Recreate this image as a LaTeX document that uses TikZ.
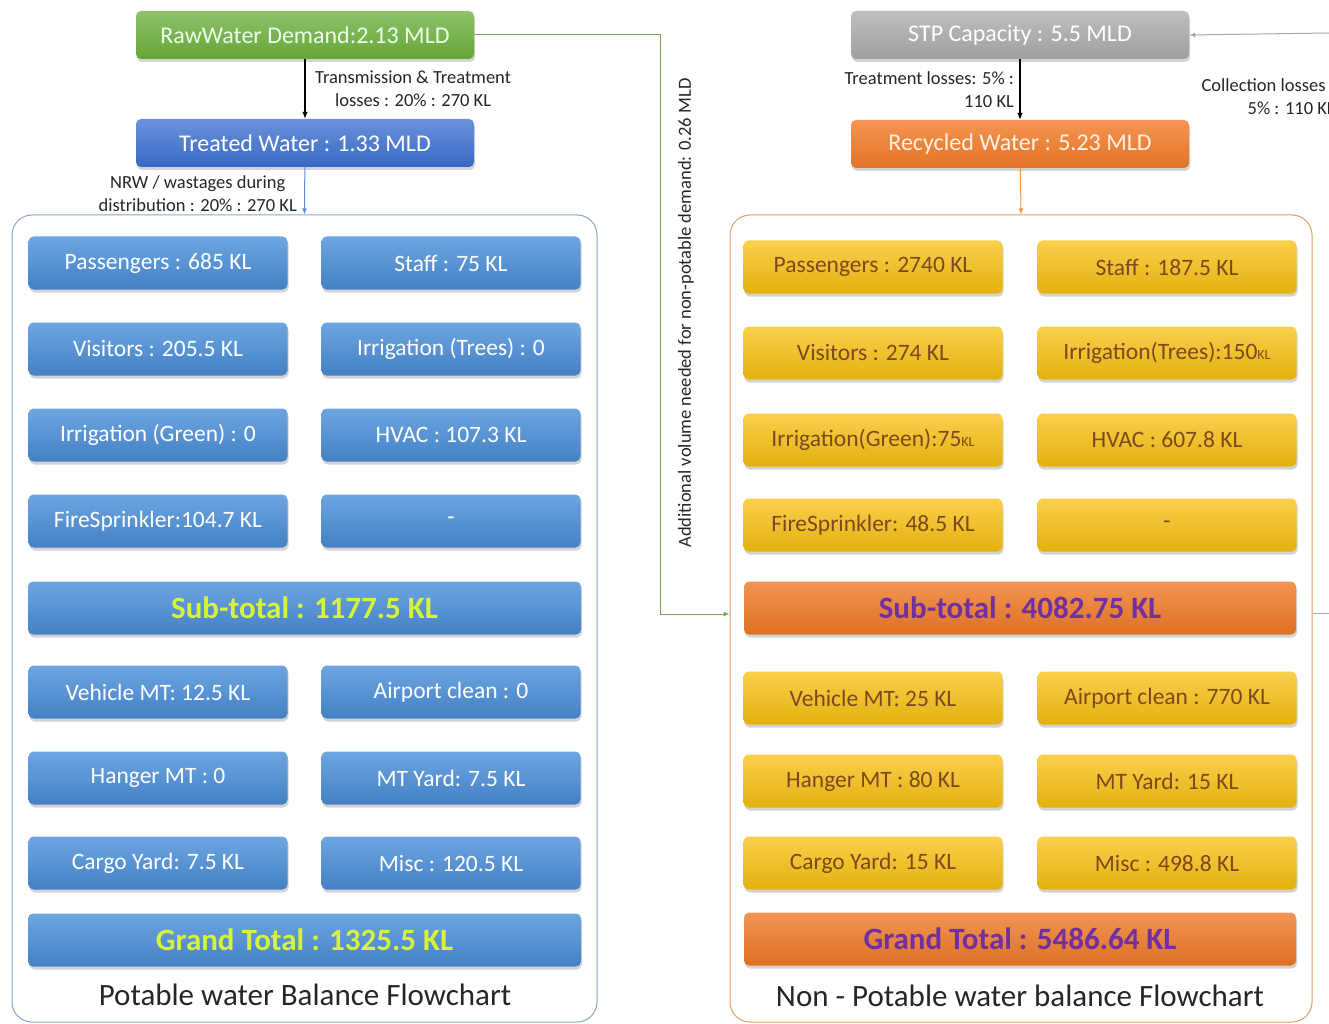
\documentclass[tikz,border=0pt]{standalone}
\usepackage{fontspec}
\setmainfont{Carlito}
\usepackage{xcolor}
\usetikzlibrary{shapes,arrows.meta,positioning,calc,shadows}

\definecolor{rawgreen}{HTML}{6AAE3A}
\definecolor{treatblue}{HTML}{3A6ED0}
\definecolor{potblue}{HTML}{4A8FDA}
\definecolor{subyellow}{HTML}{D8F23C}
\definecolor{npyellow}{HTML}{F8C010}
\definecolor{nptext}{HTML}{7A4A1E}
\definecolor{recorange}{HTML}{F07A28}
\definecolor{subpurple}{HTML}{7030A0}
\definecolor{stpgrey}{HTML}{A8A8A8}
\definecolor{linkgreen}{HTML}{72A84E}
\definecolor{potframe}{HTML}{8AA6C4}
\definecolor{npframe}{HTML}{D9A263}

\begin{document}
\begin{tikzpicture}[x=1pt, y=-1pt,
    head/.style={rectangle, rounded corners=5pt, minimum width=338pt, minimum height=48pt,
      drop shadow={opacity=0.35, shadow xshift=1pt, shadow yshift=-3pt}, font=\fontsize{24}{28}\selectfont},
    potbox/.style={rectangle, rounded corners=5pt, minimum width=259pt, minimum height=53pt,
      top color=potblue!80!white, bottom color=potblue!90!black, text=white,
      drop shadow={opacity=0.35, shadow xshift=1pt, shadow yshift=-3pt}, font=\fontsize{23.5}{27}\selectfont},
    npbox/.style={rectangle, rounded corners=5pt, minimum width=259pt, minimum height=53pt,
      top color=npyellow!75!white, bottom color=npyellow!92!black, text=nptext,
      drop shadow={opacity=0.35, shadow xshift=1pt, shadow yshift=-3pt}, font=\fontsize{23.5}{27}\selectfont},
    potsum/.style={potbox, minimum width=553pt, text=subyellow, font=\fontsize{31}{35}\selectfont\bfseries},
    npsum/.style={npbox, minimum width=552pt, top color=recorange!80!white, bottom color=recorange!92!black,
      text=subpurple, font=\fontsize{31}{35}\selectfont\bfseries},
    panel/.style={rectangle, draw, rounded corners=20pt, line width=1pt},
    caption/.style={font=\fontsize{31}{35}\selectfont, text=black!85},
    note/.style={font=\fontsize{18.5}{23}\selectfont, text=black!85, align=center},
    arrow/.style={-{Latex[length=7pt,width=6pt]}, line width=1.6pt},
    thinarrow/.style={-{Latex[length=6pt,width=5pt]}, line width=1pt}
  ]
    \useasboundingbox (0,0) rectangle (1329,1024);

    % potable side
    \node[head, top color=rawgreen!75!white, bottom color=rawgreen!95!black, text=green!8!white] (raw) at (305,35) {RawWater Demand:2.13 MLD};
    \node[head, top color=treatblue!75!white, bottom color=treatblue!95!black, text=white] (treated) at (305,143) {Treated Water : 1.33 MLD};
    \node[panel, draw=potframe, minimum width=585pt, minimum height=807pt] (potpanel) at (304.5,618.5) {};

    \node[potbox] (potpass) at (158,263) {Passengers : 685 KL};
    \node[potbox] (potstaff) at (451,263) {Staff : 75 KL};
    \node[potbox] (potvis) at (158,349) {Visitors : 205.5 KL};
    \node[potbox] (pottrees) at (451,349) {Irrigation (Trees) : 0};
    \node[potbox] (potgreen) at (158,435) {Irrigation (Green) : 0};
    \node[potbox] (pothvac) at (451,435) {HVAC : 107.3 KL};
    \node[potbox] (potfire) at (158,521) {FireSprinkler:104.7 KL};
    \node[potbox] (potnone) at (451,521) {-};
    \node[potsum] (potsub) at (304.5,608) {Sub-total : 1177.5 KL};
    \node[potbox] (potveh) at (158,692) {Vehicle MT: 12.5 KL};
    \node[potbox] (potclean) at (451,692) {Airport clean : 0};
    \node[potbox] (pothang) at (158,778) {Hanger MT : 0};
    \node[potbox] (potyard) at (451,778) {MT Yard: 7.5 KL};
    \node[potbox] (potcargo) at (158,863) {Cargo Yard: 7.5 KL};
    \node[potbox] (potmisc) at (451,863) {Misc : 120.5 KL};
    \node[potsum] (potgrand) at (304.5,940) {Grand Total : 1325.5 KL};
    \node[caption] (potcap) at (305,995) {Potable water Balance Flowchart};

    \draw[arrow] (raw) -- node[note, right=6pt] (translabel) {Transmission \& Treatment\\losses : 20\% : 270 KL} (treated);
    \draw[thinarrow, draw=treatblue!80] (treated) -- node[note, left=4pt, pos=0.55] (nrwlabel) {NRW / wastages during\\distribution : 20\% : 270 KL} (potpanel.north);

    % non-potable side
    \node[head, top color=stpgrey!75!white, bottom color=stpgrey!95!black, text=white] (stp) at (1020,35) {STP Capacity : 5.5 MLD};
    \node[head, top color=recorange!80!white, bottom color=recorange!95!black, text=orange!10!white] (recycled) at (1020,144) {Recycled Water : 5.23 MLD};
    \node[panel, draw=npframe, minimum width=582pt, minimum height=807pt] (nppanel) at (1021,618.5) {};

    \node[npbox] (nppass) at (873,267) {Passengers : 2740 KL};
    \node[npbox] (npstaff) at (1167,267) {Staff : 187.5 KL};
    \node[npbox] (npvis) at (873,353) {Visitors : 274 KL};
    \node[npbox] (nptrees) at (1167,353) {Irrigation(Trees):150{\fontsize{14}{16}\selectfont KL}};
    \node[npbox] (npgreen) at (873,440) {Irrigation(Green):75{\fontsize{14}{16}\selectfont KL}};
    \node[npbox] (nphvac) at (1167,440) {HVAC : 607.8 KL};
    \node[npbox] (npfire) at (873,525) {FireSprinkler: 48.5 KL};
    \node[npbox] (npnone) at (1167,525) {-};
    \node[npsum] (npsub) at (1020,608) {Sub-total : 4082.75 KL};
    \node[npbox] (npveh) at (873,698) {Vehicle MT: 25 KL};
    \node[npbox] (npclean) at (1167,698) {Airport clean : 770 KL};
    \node[npbox] (nphang) at (873,781) {Hanger MT : 80 KL};
    \node[npbox] (npyard) at (1167,781) {MT Yard: 15 KL};
    \node[npbox] (npcargo) at (873,863) {Cargo Yard: 15 KL};
    \node[npbox] (npmisc) at (1167,863) {Misc : 498.8 KL};
    \node[npsum] (npgrand) at (1020,939) {Grand Total : 5486.64 KL};
    \node[caption] (npcap) at (1020,996) {Non - Potable water balance Flowchart};

    \draw[arrow] (stp) -- node[note, left=2pt, align=right] (treatlabel) {Treatment losses: 5\% :\\110 KL} (recycled);
    \draw[thinarrow, draw=recorange!80] (recycled) -- (nppanel.north);

    % links between the two sides
    \coordinate (collin) at (1329,33);
    \coordinate (collout) at (1329,613);
    \draw[thinarrow, draw=stpgrey] (collin) -- (stp.east);
    \node[note, align=right, anchor=west] (colllabel) at (1198,97) {Collection losses :\\5\% : 110 KL};
    \draw[line width=1pt, draw=stpgrey] (nppanel.east |- collout) -- (collout);

    \draw[thinarrow, draw=linkgreen] (raw.east) -- (660,35) |- (nppanel.west |- 0,614);
    \node[note, rotate=90] (addlabel) at (686,313) {Additional volume needed for non-potable demand: 0.26 MLD};
  \end{tikzpicture}
\end{document}
